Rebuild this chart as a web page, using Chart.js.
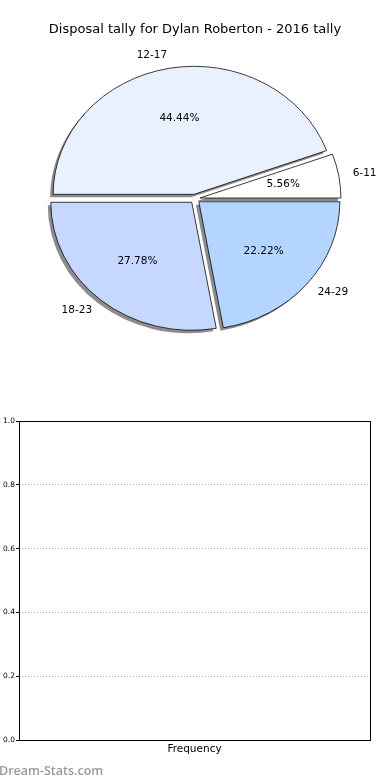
<!DOCTYPE html>
<html>
<head>
<meta charset="utf-8">
<script src="https://cdn.jsdelivr.net/npm/chart.js@4/dist/chart.umd.min.js"></script>
<style>
  body { margin: 0; background: #fff; width: 390px; height: 780px; position: relative; overflow: hidden; }
  #pieChart { position: absolute; left: 0; top: 0; }
  #barChart { position: absolute; left: 0; top: 360px; }
  #mark { position: absolute; left: -1px; top: 762px; font: 600 12.5px "Open Sans", sans-serif; color: #9a9a9a; }
</style>
</head>
<body>
<canvas id="pieChart" width="390" height="360"></canvas>
<canvas id="barChart" width="390" height="420"></canvas>
<div id="mark">Dream-Stats.com</div>
<script>
// slices listed clockwise from the east, like the original
const pieLabels = ["24-29", "18-23", "12-17", "6-11"];
const pieValues = [4, 5, 8, 1];
const pieColors = ["#b3d5ff", "#c6d8ff", "#eaf1fe", "#ffffff"];
const titleText = "Disposal tally for Dylan Roberton - 2016 tally";

const freqLabels = [];
const freqValues = [];
const yTicks = [0, 0.2, 0.4, 0.6, 0.8, 1.0];

const squash = 0.908;
const explode = 5;
const total = pieValues.reduce((a, b) => a + b, 0);

// draws the arcs squashed into an ellipse, each pushed out from the centre,
// with a flat grey shadow underneath
const ellipsePie = {
  id: "ellipsePie",
  beforeDatasetsDraw(chart) {
    const ctx = chart.ctx;
    const arcs = chart.getDatasetMeta(0).data;

    const place = (arc, dx, dy) => {
      const mid = (arc.startAngle + arc.endAngle) / 2;
      ctx.translate(dx, dy);
      ctx.translate(arc.x, arc.y);
      ctx.scale(1, squash);
      ctx.translate(-arc.x, -arc.y);
      ctx.translate(explode * Math.cos(mid), explode * Math.sin(mid));
    };

    arcs.forEach(arc => {
      const o = arc.options;
      ctx.save();
      place(arc, -3, 3);
      arc.options = Object.assign({}, o, { backgroundColor: "rgba(0,0,0,0.45)", borderWidth: 0 });
      arc.draw(ctx);
      arc.options = o;
      ctx.restore();
    });
    arcs.forEach(arc => {
      ctx.save();
      place(arc, 0, 0);
      arc.draw(ctx);
      ctx.restore();
    });

    ctx.save();
    ctx.fillStyle = "#000";
    ctx.font = "10.5px 'DejaVu Sans'";
    ctx.textBaseline = "middle";
    arcs.forEach((arc, i) => {
      const mid = (arc.startAngle + arc.endAngle) / 2;
      const r = arc.outerRadius;
      const c = Math.cos(mid), s = Math.sin(mid);
      const pr = 0.6 * r + explode;
      ctx.textAlign = "center";
      const pct = (pieValues[i] / total * 100).toFixed(2) + "%";
      ctx.fillText(pct, arc.x + pr * c, arc.y + pr * s * squash);
      const lr = 1.1 * r + explode;
      ctx.textAlign = c > 0 ? "left" : "right";
      ctx.fillText(pieLabels[i], arc.x + lr * c, arc.y + lr * s * squash);
    });
    ctx.restore();
    return false;
  }
};

new Chart(document.getElementById("pieChart"), {
  type: "pie",
  data: {
    labels: pieLabels,
    datasets: [{
      data: pieValues,
      backgroundColor: pieColors,
      borderColor: "#000",
      borderWidth: 0.8,
      borderJoinStyle: "miter",
    }],
  },
  options: {
    responsive: false,
    animation: false,
    rotation: 90,
    radius: 141,
    plugins: {
      legend: { display: false },
      tooltip: { enabled: false },
      title: {
        display: true,
        text: titleText,
        color: "#000",
        font: { family: "DejaVu Sans", size: 13, weight: "normal" },
        padding: { top: 22, bottom: 0 },
      },
    },
  },
  plugins: [ellipsePie],
});

const frame = {
  id: "frame",
  afterDraw(chart) {
    const { left, right, top, bottom } = chart.chartArea;
    const ctx = chart.ctx;
    ctx.save();
    ctx.strokeStyle = "#000";
    ctx.lineWidth = 1;
    ctx.strokeRect(left + 0.5, top + 0.5, right - left, bottom - top);
    ctx.restore();
  }
};

new Chart(document.getElementById("barChart"), {
  type: "bar",
  data: {
    labels: freqLabels,
    datasets: [{ data: freqValues, backgroundColor: "#b3d5ff" }],
  },
  options: {
    responsive: false,
    animation: false,
    layout: { padding: { top: 61, right: 20, bottom: 0, left: 0 } },
    plugins: { legend: { display: false }, tooltip: { enabled: false } },
    scales: {
      x: {
        ticks: { display: false },
        grid: { display: false },
        border: { display: false },
        title: {
          display: true,
          text: "Frequency",
          color: "#000",
          font: { family: "DejaVu Sans", size: 10.5 },
          padding: { top: 0, bottom: 24 },
        },
        afterFit(scale) { scale.height = 40; },
      },
      y: {
        min: 0,
        max: 1,
        afterBuildTicks(scale) { scale.ticks = yTicks.map(v => ({ value: v })); },
        ticks: {
          color: "#000",
          font: { family: "DejaVu Sans", size: 7.5 },
          padding: 1,
          callback: v => v.toFixed(1),
        },
        grid: { color: "#b0b0b0", tickColor: "#000", tickLength: 3, tickBorderDash: [] },
        border: { display: false, dash: [1, 2] },
        afterFit(scale) { scale.width = 19; },
      },
    },
  },
  plugins: [frame],
});
</script>
</body>
</html>
